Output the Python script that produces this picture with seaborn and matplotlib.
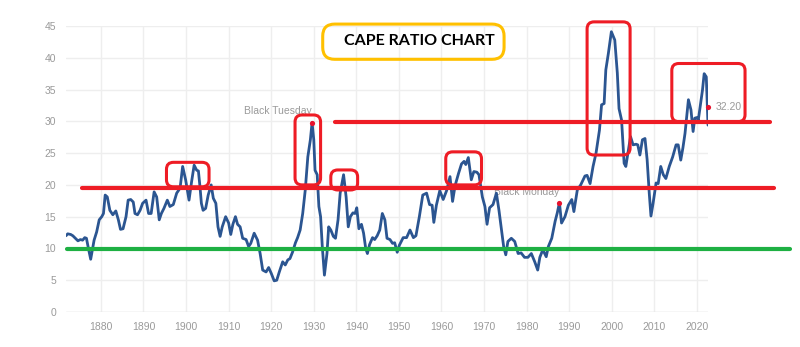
import matplotlib
matplotlib.use("Agg")
import matplotlib.pyplot as plt
from matplotlib.patches import FancyBboxPatch
from matplotlib.transforms import IdentityTransform
import seaborn as sns
import pandas as pd

years = [1871.8, 1872.2, 1872.9, 1873.4, 1874.0, 1874.6, 1875.2, 1875.7, 1876.2, 1876.6,
         1877.1, 1877.6, 1878.4, 1879.0, 1879.6, 1880.2, 1880.6, 1881.0, 1881.5, 1882.1,
         1882.8, 1883.5, 1884.1, 1884.6, 1885.2, 1885.9, 1886.4, 1887.0, 1887.6, 1888.0,
         1888.6, 1889.2, 1889.8, 1890.6, 1891.2, 1891.8, 1892.5, 1893.1, 1893.7, 1894.2,
         1894.8, 1895.6, 1896.2, 1897.0, 1897.8, 1898.6, 1899.2, 1899.9, 1900.7, 1901.3,
         1901.9, 1902.5, 1902.9, 1903.3, 1903.6, 1904.0, 1904.6, 1905.2, 1905.9, 1906.4,
         1907.0, 1907.5, 1908.0, 1908.5, 1909.3, 1910.0, 1910.5, 1911.0, 1911.6, 1912.1,
         1912.7, 1913.3, 1914.1, 1914.7, 1915.2, 1916.0, 1916.8, 1917.4, 1918.0, 1918.8,
         1919.4, 1920.0, 1920.7, 1921.3, 1921.9, 1922.7, 1923.3, 1923.9, 1924.4, 1925.0,
         1925.7, 1926.2, 1926.8, 1927.4, 1928.0, 1928.6, 1929.2, 1929.6, 1930.0, 1930.3,
         1930.8, 1931.2, 1931.6, 1932.0, 1932.5, 1933.1, 1933.5, 1934.0, 1934.6, 1935.1,
         1935.7, 1936.2, 1937.0, 1937.6, 1938.1, 1938.6, 1939.2, 1939.7, 1940.1, 1940.6,
         1941.2, 1941.7, 1942.2, 1942.6, 1943.1, 1943.8, 1944.3, 1944.9, 1945.5, 1946.1,
         1946.7, 1947.2, 1947.9, 1948.5, 1949.0, 1949.6, 1950.1, 1951.0, 1951.8, 1952.6,
         1953.4, 1954.0, 1954.8, 1955.6, 1956.5, 1957.2, 1957.8, 1958.2, 1958.8, 1959.6,
         1960.4, 1961.2, 1962.0, 1962.6, 1963.2, 1964.0, 1964.7, 1965.3, 1965.7, 1966.3,
         1967.0, 1967.6, 1968.3, 1968.8, 1969.6, 1970.2, 1970.7, 1971.3, 1972.1, 1972.9,
         1973.5, 1974.1, 1974.6, 1975.1, 1975.6, 1976.4, 1977.2, 1978.0, 1978.7, 1979.5,
         1980.3, 1981.1, 1981.9, 1982.6, 1983.1, 1983.8, 1984.6, 1985.1, 1985.9, 1986.7,
         1987.2, 1987.7, 1988.2, 1989.0, 1989.8, 1990.6, 1991.1, 1991.9, 1992.7, 1993.7,
         1994.2, 1994.9, 1995.6, 1996.3, 1997.1, 1997.6, 1998.2, 1998.6, 1999.2, 1999.9,
         2000.7, 2001.3, 2001.7, 2002.3, 2002.9, 2003.3, 2003.9, 2004.4, 2005.0, 2005.7,
         2006.1, 2006.6, 2007.2, 2007.8, 2008.3, 2008.8, 2009.2, 2009.7, 2010.4, 2010.9,
         2011.5, 2012.1, 2012.7, 2013.5, 2014.3, 2015.1, 2015.6, 2016.2, 2016.7, 2017.2,
         2018.0, 2018.6, 2019.1, 2019.5, 2020.0, 2020.3, 2020.7, 2021.3, 2021.7, 2022.2,
         2022.6]
cape = [12.0, 12.3, 12.2, 12.0, 11.6, 11.2, 11.4, 11.3, 11.7, 11.6,
        9.9, 8.3, 11.3, 12.6, 14.5, 15.0, 15.5, 18.4, 18.1, 16.0,
        15.3, 15.9, 14.5, 13.0, 13.1, 15.0, 17.6, 17.7, 17.3, 15.5,
        15.3, 16.0, 17.1, 17.6, 15.5, 15.5, 18.9, 18.1, 14.5, 15.5,
        16.3, 17.6, 16.6, 16.9, 18.7, 19.5, 22.9, 20.8, 17.6, 20.5,
        23.1, 22.3, 22.2, 19.5, 17.1, 16.0, 16.3, 18.4, 20.0, 17.9,
        17.1, 13.4, 11.9, 13.4, 15.0, 14.0, 12.2, 13.8, 15.0, 13.8,
        13.4, 11.6, 11.4, 10.3, 10.8, 12.4, 11.3, 9.2, 6.6, 6.3,
        7.0, 6.1, 4.9, 5.0, 6.3, 7.9, 7.4, 8.2, 8.4, 9.4,
        10.9, 11.7, 12.9, 15.5, 19.2, 24.4, 27.1, 29.8, 27.1, 22.3,
        21.6, 16.6, 15.0, 10.3, 5.8, 9.2, 13.4, 12.9, 11.9, 11.6,
        14.5, 18.7, 21.6, 18.1, 13.4, 15.0, 15.6, 15.5, 16.4, 13.1,
        13.8, 12.4, 10.0, 9.2, 10.6, 11.7, 11.4, 12.0, 12.9, 15.5,
        14.5, 11.6, 11.4, 10.8, 10.9, 9.4, 10.5, 11.7, 11.7, 12.9,
        11.7, 12.0, 15.0, 18.4, 18.7, 16.9, 16.8, 14.1, 16.8, 19.1,
        17.7, 19.1, 21.3, 17.4, 19.9, 21.8, 23.3, 23.7, 23.2, 24.3,
        20.8, 22.1, 22.0, 21.6, 18.1, 16.6, 13.8, 16.4, 16.9, 18.7,
        16.0, 12.9, 10.3, 9.0, 11.1, 11.6, 11.1, 9.2, 9.3, 8.6,
        8.6, 9.2, 7.9, 6.6, 8.6, 9.8, 8.7, 10.3, 11.6, 14.3,
        15.6, 17.2, 14.0, 15.0, 16.8, 17.7, 15.8, 19.2, 20.0, 21.4,
        21.5, 20.2, 22.9, 25.0, 28.6, 32.6, 32.8, 38.1, 40.7, 44.1,
        42.8, 37.6, 32.0, 30.2, 23.4, 22.9, 25.5, 27.6, 26.3, 26.4,
        26.3, 24.7, 27.1, 27.3, 24.0, 18.7, 15.1, 17.1, 20.3, 20.2,
        22.9, 21.6, 21.0, 22.9, 24.4, 26.3, 26.3, 23.9, 25.8, 28.1,
        33.4, 31.8, 28.4, 30.5, 30.6, 30.1, 32.0, 34.9, 37.5, 37.0,
        29.4]

x_ticks = [1880, 1890, 1900, 1910, 1920, 1930, 1940, 1950, 1960, 1970, 1980, 1990, 2000, 2010, 2020]
y_ticks = [0, 5, 10, 15, 20, 25, 30, 35, 40, 45]

# event markers
event_labels = ["Black Tuesday", "Black Monday"]
event_years = [1929.6, 1987.7]
event_values = [29.8, 17.2]
last_year, last_value, last_label = 2022.7, 32.2, "32.20"

# hand-drawn overlay: horizontal lines (x0, x1, level)
red_lines = [(1875.5, 2038.1, 19.56), (1935.0, 2037.2, 29.85)]
green_line = (1872.0, 2041.9, 9.91)
# rounded boxes (x0, x1, y0, y1)
red_boxes = [(1895.4, 1905.4, 19.7, 23.55),
             (1925.6, 1931.6, 20.0, 31.0),
             (1934.0, 1940.3, 19.2, 22.35),
             (1961.0, 1969.4, 20.0, 25.2),
             (1994.2, 2004.3, 24.7, 45.65),
             (2014.1, 2031.3, 29.95, 39.1)]
title_box = (1932.1, 1974.7, 39.76, 45.3)
title_text = "CAPE RATIO CHART"
title_pos = (1954.8, 42.6)

df = pd.DataFrame({"year": years, "cape": cape})

sns.set_style("white")
plt.rcParams["font.family"] = ["Liberation Sans", "DejaVu Sans"]

fig = plt.figure(figsize=(8.0, 3.47), dpi=100)
ax = fig.add_axes([66 / 800, 35 / 347, 642 / 800, 286 / 347])

sns.lineplot(data=df, x="year", y="cape", ax=ax, color="#2b5591", linewidth=2.0,
             estimator=None, sort=True, zorder=3)

ax.set_xlim(1871.8, 2022.6)
ax.set_ylim(0, 45)
ax.set_xticks(x_ticks)
ax.set_yticks(y_ticks)
ax.set_xticklabels([str(t) for t in x_ticks])
ax.set_yticklabels([str(t) for t in y_ticks])
ax.tick_params(axis="both", length=0, colors="#9a9a9a", labelsize=7.5)
ax.tick_params(axis="x", pad=7)
ax.tick_params(axis="y", pad=7)
ax.set_xlabel("")
ax.set_ylabel("")
ax.grid(True, color="#eeeeee", linewidth=1.0, zorder=0)
ax.set_axisbelow(True)
for s in ax.spines.values():
    s.set_visible(False)
ax.axhline(0, color="#e3e3e3", linewidth=1.0, zorder=1)

# event markers
for lab, ex, ey in zip(event_labels, event_years, event_values):
    ax.scatter([ex], [ey], s=14, color="#e8112d", zorder=4, linewidths=0)
    ax.annotate(lab, (ex, ey), xytext=(0, 8), textcoords="offset points",
                ha="right", va="center", fontsize=7.5, color="#9a9a9a", zorder=2)
ax.scatter([last_year], [last_value], s=14, color="#e8112d", zorder=4, linewidths=0,
           clip_on=False)
ax.annotate(last_label, (last_year, last_value), xytext=(5, 0), textcoords="offset points",
            ha="left", va="center", fontsize=7.5, color="#9a9a9a", annotation_clip=False)

# overlay drawings
for x0, x1, lvl in red_lines:
    ax.plot([x0, x1], [lvl, lvl], color="#ee1c25", linewidth=3.0, solid_capstyle="round",
            clip_on=False, zorder=6)
gx0, gx1, glvl = green_line
ax.plot([gx0, gx1], [glvl, glvl], color="#1eb043", linewidth=3.0, solid_capstyle="round",
        clip_on=False, zorder=6)

fig.canvas.draw()
to_px = ax.transData


def rounded_box(box, color, radius, lw):
    x0, x1, y0, y1 = box
    (px0, py0) = to_px.transform((x0, y0))
    (px1, py1) = to_px.transform((x1, y1))
    patch = FancyBboxPatch((px0, py0), px1 - px0, py1 - py0,
                           boxstyle=f"round,pad=0,rounding_size={radius}",
                           transform=IdentityTransform(), facecolor="none",
                           edgecolor=color, linewidth=lw, zorder=7, clip_on=False)
    fig.add_artist(patch)


for b in red_boxes:
    rounded_box(b, "#ee1c25", 7, 2.2)
rounded_box(title_box, "#ffc000", 12, 2.2)

ax.text(title_pos[0], title_pos[1], title_text, ha="center", va="center", fontsize=11.5,
        fontweight="bold", color="black", family=["Lato", "DejaVu Sans"], zorder=8)

fig.savefig("out.png", dpi=100)
